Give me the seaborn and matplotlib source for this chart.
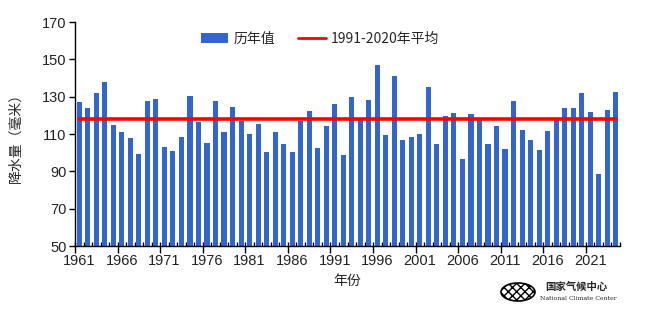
import numpy as np
import pandas as pd
import matplotlib
matplotlib.use("Agg")
import matplotlib.pyplot as plt
from matplotlib.patches import Ellipse
from matplotlib.lines import Line2D
from matplotlib.patches import Patch
import seaborn as sns

years = list(range(1961, 2025))
precip = [127.3, 124.1, 132.1, 138.0, 115.0, 111.2, 108.0, 99.5, 127.8, 128.9,
          103.2, 101.1, 108.6, 130.5, 116.6, 105.4, 127.8, 111.2, 124.6, 117.2,
          110.2, 115.5, 100.5, 111.2, 104.8, 100.5, 117.2, 122.5, 102.7, 114.4,
          126.2, 98.9, 130.0, 118.7, 128.4, 147.1, 109.6, 141.2, 107.0, 108.6,
          110.2, 135.3, 104.8, 119.8, 121.4, 96.8, 120.9, 117.4, 104.8, 114.4,
          102.2, 127.8, 112.3, 107.0, 101.6, 111.8, 118.2, 124.1, 124.1, 132.1,
          122.0, 88.7, 123.0, 132.7]
normal_1991_2020 = 117.9
label_years = [1961, 1966, 1971, 1976, 1981, 1986, 1991, 1996, 2001, 2006, 2011, 2016, 2021]
yticks = [50, 70, 90, 110, 130, 150, 170]

sns.set_theme(style="white")
plt.rcParams['font.family'] = ['Liberation Sans', 'Noto Sans CJK SC', 'DejaVu Sans']
cjk = ['Noto Sans CJK SC', 'DejaVu Sans']

df = pd.DataFrame({"year": [str(y) for y in years], "precip": precip})

fig = plt.figure(figsize=(6.48, 3.09), dpi=100)
ax = fig.add_axes([75/648, 1-246/309, 545/648, 224/309])

sns.barplot(data=df, x="year", y="precip", color="#3366CC", saturation=1,
            width=0.6, ax=ax, zorder=2, linewidth=0, edgecolor="none")
n = len(years)
ax.plot([0, n - 1], [normal_1991_2020] * 2, color="#FF0000", lw=2.6, zorder=3)

ax.set_xlim(-0.5, n - 0.5)
ax.set_ylim(50, 170)
ax.set_yticks(yticks)
ax.set_yticklabels([str(v) for v in yticks], fontsize=10.5, color="#222222")
ax.tick_params(axis='y', direction='out', length=4, width=1, color='black', left=True, pad=2)

lab_pos = [years.index(y) for y in label_years]
ax.set_xticks(lab_pos)
ax.set_xticklabels([str(y) for y in label_years], fontsize=10.5, color="#222222")
ax.tick_params(axis='x', length=0, pad=6)
ax.set_xticks(np.arange(-0.5, n, 1.0), minor=True)
ax.tick_params(axis='x', which='minor', direction='in', length=3, width=1,
               color='black', bottom=True)

sec = ax.secondary_xaxis('bottom')
sec.set_xticks(np.arange(-0.5, n, 5.0))
sec.set_xticklabels([])
sec.tick_params(direction='out', length=5, width=1, color='black')
sec.spines['bottom'].set_visible(False)

for s in ['top', 'right']:
    ax.spines[s].set_visible(False)
for s in ['left', 'bottom']:
    ax.spines[s].set_color('black')
    ax.spines[s].set_linewidth(1)

ax.set_xlabel("年份", family=cjk, fontsize=10, labelpad=4)
ax.set_ylabel("降水量（毫米）", family=cjk, fontsize=10, labelpad=14)

handles = [Patch(facecolor="#3366CC", edgecolor="none"),
           Line2D([0], [0], color="#FF0000", lw=2)]
leg = fig.legend(handles, ["历年值", "1991-2020年平均"], loc='center',
                 bbox_to_anchor=(320/648, 1-39/309), ncol=2, frameon=False,
                 prop={'family': cjk, 'size': 10}, handlelength=2.0,
                 handleheight=0.7, columnspacing=1.6, handletextpad=0.4)

# logo
fig.patches.append(Ellipse((518/648, 1-292/309), 34/648, 18/309,
                           transform=fig.transFigure, facecolor='white',
                           edgecolor='black', lw=1.2, hatch='xxxx'))
fig.text(576/648, 1-287/309, "国家气候中心", family=cjk, fontsize=7.5,
         ha='center', va='center', weight='bold')
fig.text(578/648, 1-299/309, "National Climate Center", family='DejaVu Serif',
         fontsize=4.5, ha='center', va='center')

fig.savefig("out.png", dpi=100)
